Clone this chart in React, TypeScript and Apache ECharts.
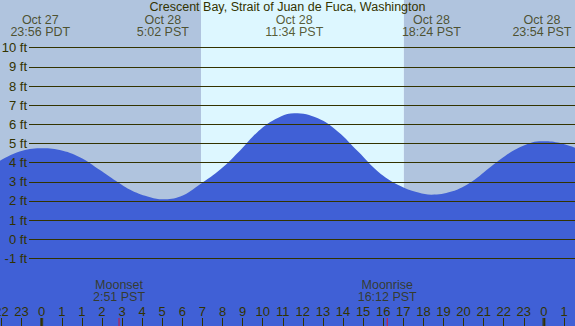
import React, { useEffect, useRef } from "react";
import * as echarts from "echarts";

// hours elapsed since Oct 28 00:00 PDT (real time)
const tideHours = [-2.1, -1.1, -0.07, 0.9, 1.9, 2.9, 3.7, 4.5, 5.4, 6.03, 6.9, 7.9, 8.9, 9.9, 10.9, 11.9, 12.57, 13.75, 14.75, 15.75, 16.75, 17.75, 18.75, 19.4, 20.4, 21.4, 22.4, 23.4, 24.4, 24.9, 25.7, 26.6];
const tideFeet = [4.08, 4.57, 4.75, 4.66, 4.28, 3.61, 3.04, 2.53, 2.19, 2.08, 2.22, 2.88, 3.65, 4.66, 5.74, 6.4, 6.57, 6.31, 5.61, 4.57, 3.52, 2.83, 2.43, 2.32, 2.48, 3.0, 3.82, 4.57, 5.04, 5.11, 5.04, 4.75];

const extremeHours = [-0.07, 6.03, 12.57, 19.4, 24.9];
const extremeDates = ["Oct 27", "Oct 28", "Oct 28", "Oct 28", "Oct 28"];
const extremeTimes = ["23:56 PDT", "5:02 PST", "11:34 PST", "18:24 PST", "23:54 PST"];

const sunriseHour = 7.93;
const sunsetHour = 18.03;

const moonHours = [3.85, 17.2];
const moonNames = ["Moonset", "Moonrise"];
const moonTimes = ["2:51 PST", "16:12 PST"];

const midnightHours = [0, 25];

// labels for elapsed hours -3 .. 27 (the outermost ones fall outside the picture)
const hourLabels = ["", "22", "23", "0", "1", "1", "2", "3", "4", "5", "6", "7", "8", "9", "10", "11", "12", "13", "14", "15", "16", "17", "18", "19", "20", "21", "22", "23", "0", "1", ""];

const title = "Crescent Bay, Strait of Juan de Fuca, Washington";

const X_MIN = -3;
const X_MAX = 27;
const Y_MIN = -4.54;
const Y_MAX = 12.49;

const NIGHT = "#B0C4DE";
const DAY = "#DDF7FF";
const WATER = "#4060D6";
const INK = "#333300";
const FONT = "Liberation Sans";
const FS = 13;
const FS_STACK = 12.5;

export default function App() {
  const ref = useRef<HTMLDivElement>(null);
  useEffect(() => {
    if (!ref.current) return;
    const chart = echarts.init(ref.current, undefined, { renderer: "svg" });
    const option: any = {
      animation: false,
      textStyle: { fontFamily: FONT },
      title: {
        text: title,
        left: "center",
        top: 0,
        padding: 0,
        textStyle: { fontSize: FS_STACK, fontWeight: "normal", color: INK, fontFamily: FONT },
      },
      grid: [
        { left: -18.57, right: -9.1, top: 0, bottom: 0, containLabel: false, outerBoundsMode: "none" },
        { left: 29, right: 0, top: 47.7, bottom: 67.65, containLabel: false, outerBoundsMode: "none" },
      ],
      xAxis: [
        {
          gridIndex: 0,
          type: "value",
          min: X_MIN,
          max: X_MAX,
          interval: 1,
          axisLine: { show: false, onZero: false },
          axisTick: { show: true, inside: true, length: 8, lineStyle: { color: INK, width: 1 } },
          axisLabel: {
            show: true,
            inside: true,
            margin: 8,
            color: INK,
            fontSize: FS,
            fontFamily: FONT,
            hideOverlap: false,
            showMinLabel: true,
            showMaxLabel: true,
            formatter: (v: number) => hourLabels[Math.round(v) - X_MIN] ?? "",
          },
          splitLine: { show: false },
          z: 6,
        },
        { gridIndex: 1, type: "value", min: X_MIN, max: X_MAX, show: false },
      ],
      yAxis: [
        { gridIndex: 0, type: "value", min: Y_MIN, max: Y_MAX, show: false },
        {
          gridIndex: 1,
          type: "value",
          min: -1,
          max: 10,
          interval: 1,
          z: 10,
          axisLine: { show: false, onZero: false },
          axisTick: { show: false },
          axisLabel: {
            margin: 2,
            color: INK,
            fontSize: FS,
            fontFamily: FONT,
            formatter: (v: number) => `${v} ft`,
          },
          splitLine: { show: true, lineStyle: { color: INK, width: 1 } },
        },
      ],
      series: [
        {
          type: "line",
          xAxisIndex: 0,
          yAxisIndex: 0,
          data: tideHours.map((h, i) => [h, tideFeet[i]]),
          smooth: 0.4,
          symbol: "none",
          lineStyle: { width: 0 },
          areaStyle: { color: WATER, opacity: 1, origin: "start" },
          z: 2,
          silent: true,
          markArea: {
            silent: true,
            data: [
              [{ xAxis: X_MIN, itemStyle: { color: NIGHT } }, { xAxis: sunriseHour }],
              [{ xAxis: sunriseHour, itemStyle: { color: DAY } }, { xAxis: sunsetHour }],
              [{ xAxis: sunsetHour, itemStyle: { color: NIGHT } }, { xAxis: X_MAX }],
            ],
          },
        },
        {
          type: "scatter",
          xAxisIndex: 0,
          yAxisIndex: 0,
          symbolSize: 1,
          itemStyle: { color: "transparent" },
          data: extremeHours.map((h) => [h, Y_MAX]),
          label: {
            show: true,
            position: "bottom",
            distance: 13,
            color: INK,
            fontSize: FS_STACK,
            lineHeight: 12.5,
            fontFamily: FONT,
            align: "center",
            formatter: (p: any) => `${extremeDates[p.dataIndex]}\n${extremeTimes[p.dataIndex]}`,
          },
          z: 7,
          silent: true,
        },
        {
          type: "scatter",
          xAxisIndex: 0,
          yAxisIndex: 0,
          symbol: "rect",
          symbolSize: [3, 8],
          symbolOffset: [0, -4],
          itemStyle: { color: INK },
          data: midnightHours.map((h) => [h, Y_MIN]),
          z: 7,
          silent: true,
        },
        {
          type: "scatter",
          xAxisIndex: 0,
          yAxisIndex: 0,
          symbol: "rect",
          symbolSize: [1, 8],
          symbolOffset: [0, -4],
          itemStyle: { color: "#ff0000" },
          data: moonHours.map((h) => [h, Y_MIN]),
          label: {
            show: true,
            position: "top",
            distance: 14.5,
            color: INK,
            fontSize: FS_STACK,
            lineHeight: 12.5,
            fontFamily: FONT,
            align: "center",
            formatter: (p: any) => `${moonNames[p.dataIndex]}\n${moonTimes[p.dataIndex]}`,
          },
          z: 7,
          silent: true,
        },
      ],
    };
    chart.setOption(option);
    return () => chart.dispose();
  }, []);
  return (
    <div
      ref={ref}
      style={{ position: "absolute", left: 0, top: 0, width: 575, height: 326 }}
    />
  );
}
